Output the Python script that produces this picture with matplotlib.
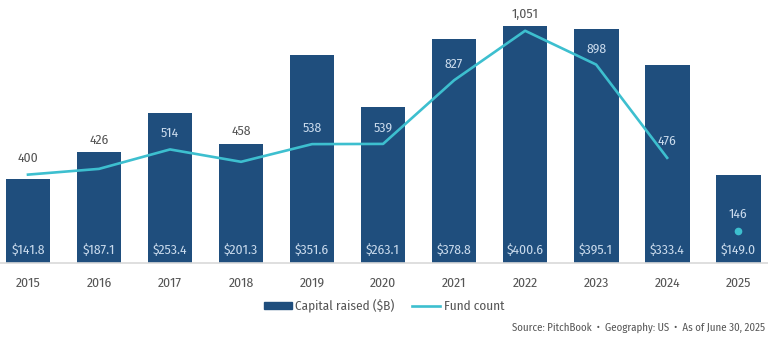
import matplotlib.pyplot as plt
import numpy as np
from matplotlib.patches import Patch
from matplotlib.lines import Line2D

plt.rcParams['font.family'] = ['Fira Sans Condensed', 'Lato', 'DejaVu Sans']

years = ['2015', '2016', '2017', '2018', '2019', '2020', '2021', '2022', '2023', '2024', '2025']
capital = [141.8, 187.1, 253.4, 201.3, 351.6, 263.1, 378.8, 400.6, 395.1, 333.4, 149.0]
fund_count = [400, 426, 514, 458, 538, 539, 827, 1051, 898, 476, 146]

BAR_COLOR = '#1f4e7d'
LINE_COLOR = '#3dbfcf'
DARK_TEXT = '#555555'
LIGHT_TEXT = '#c9daec'
BAR_MAX = 427
COUNT_MAX = 1145
AX_H_PX = 0.742 * 341
FS = 9.8

fig = plt.figure(figsize=(7.68, 3.41), dpi=100)
ax = fig.add_axes([0, 0.2287, 1, 0.742])
ax2 = ax.twinx()

x = np.arange(len(years))
ax.bar(x, capital, width=0.63, color=BAR_COLOR, zorder=2)
ax.set_ylim(0, BAR_MAX)
ax.set_xlim(-0.394, 10.42)
ax2.set_ylim(0, COUNT_MAX)

# line stops at 2024, 2025 is partial year -> single dot
ax2.plot(x[:-1], fund_count[:-1], color=LINE_COLOR, lw=1.9, zorder=3)
ax2.plot(x[-1], fund_count[-1], 'o', color=LINE_COLOR, ms=4.5, zorder=3)

for i, v in enumerate(capital):
    ax.annotate(f'${v:.1f}', (x[i], 0), xytext=(0, 9.5), textcoords='offset points',
                ha='center', va='center', color=LIGHT_TEXT, fontsize=FS)

for i, c in enumerate(fund_count):
    # pixel heights above baseline
    pt_px = c / COUNT_MAX * AX_H_PX
    bar_px = capital[i] / BAR_MAX * AX_H_PX
    lab_px = pt_px + 16
    if abs(lab_px - bar_px) < 10:
        # would sit on the bar edge -> push above the bar
        lab_px = bar_px + 12
    inside = lab_px < bar_px
    ax2.annotate(f'{c:,}', (x[i], c), xytext=(0, (lab_px - pt_px) * 0.72),
                 textcoords='offset points', ha='center', va='center', fontsize=FS,
                 color=LIGHT_TEXT if inside else DARK_TEXT)

for a in (ax, ax2):
    for s in ['top', 'right', 'left']:
        a.spines[s].set_visible(False)
    a.set_yticks([])
ax2.spines['bottom'].set_visible(False)
ax.spines['bottom'].set_color('#d9d9d9')
ax.spines['bottom'].set_linewidth(1.2)
ax.set_xticks(x)
ax.set_xticklabels(years, fontsize=FS, color=DARK_TEXT)
ax.tick_params(axis='x', length=0, pad=10)

handles = [Patch(color=BAR_COLOR, label='Capital raised ($B)'),
           Line2D([0], [0], color=LINE_COLOR, lw=1.9, label='Fund count')]
fig.legend(handles=handles, loc='center', bbox_to_anchor=(0.5, 0.103), ncol=2,
           frameon=False, fontsize=9.5, handlelength=2.1, handleheight=0.5,
           handletextpad=0.3, columnspacing=1.3, labelcolor=DARK_TEXT)

fig.text(0.996, 0.038, 'Source: PitchBook  \u2022  Geography: US  \u2022  As of June 30, 2025',
         ha='right', va='center', fontsize=7.8, color=DARK_TEXT)

fig.savefig('out.png', dpi=100)
